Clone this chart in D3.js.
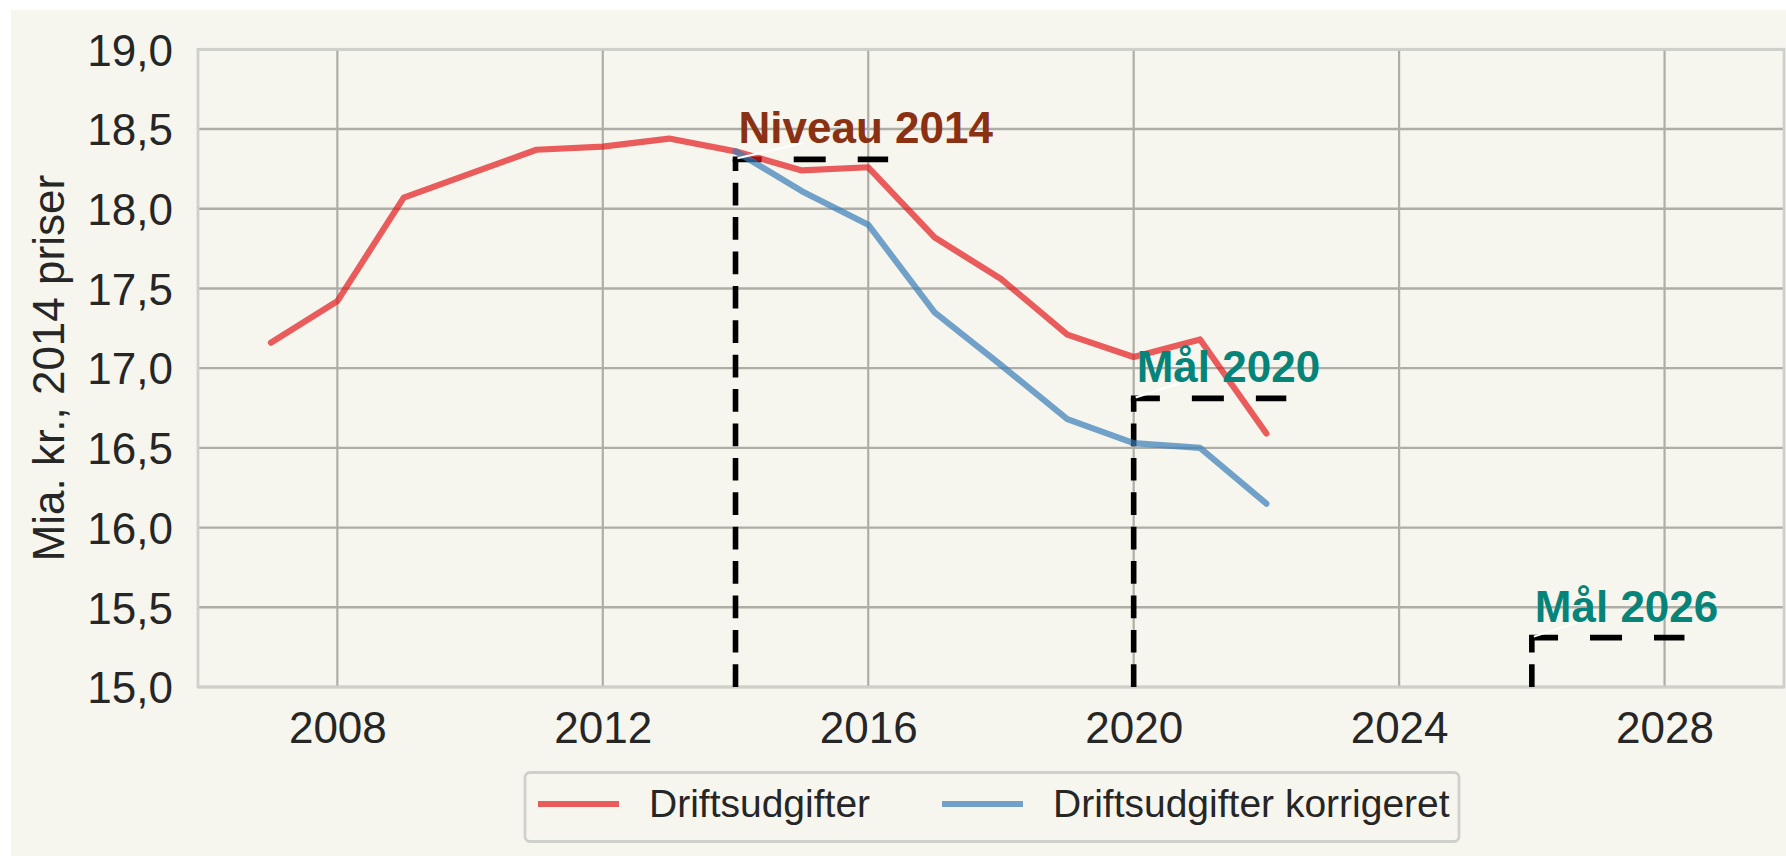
<!DOCTYPE html>
<html lang="da">
  <head>
    <meta charset="UTF-8" />
    <title>Driftsudgifter</title>
    <script src="https://d3js.org/d3.v7.min.js"></script>
    <style>
      body { margin: 0; background: #fff; }
      svg text { font-family: "Liberation Sans", Arial, sans-serif; fill: #262626; }
    </style>
  </head>
  <body></body>
  <script type="text/javascript">
    var width = 1786,
      height = 856;

    // data
    var years = [2007, 2008, 2009, 2010, 2011, 2012, 2013, 2014, 2015, 2016, 2017, 2018, 2019, 2020, 2021, 2022];
    var drift = [17.16, 17.42, 18.07, 18.22, 18.37, 18.39, 18.44, 18.36, 18.24, 18.26, 17.82, 17.56, 17.21, 17.07, 17.18, 16.59];
    var korrYears = [2014, 2015, 2016, 2017, 2018, 2019, 2020, 2021, 2022];
    var korr = [18.36, 18.11, 17.90, 17.35, 17.02, 16.68, 16.53, 16.50, 16.15];

    var targetNames = ['Niveau 2014', 'Mål 2020', 'Mål 2026'];
    var targetYears = [2014, 2020, 2026];
    var targetLevels = [18.31, 16.81, 15.31];
    var targetColors = ['#8a3113', '#06847a', '#06847a'];

    var xTicks = [2008, 2012, 2016, 2020, 2024, 2028];
    var yTicks = [15.0, 15.5, 16.0, 16.5, 17.0, 17.5, 18.0, 18.5, 19.0];
    var seriesNames = ['Driftsudgifter', 'Driftsudgifter korrigeret'];
    var seriesColors = ['#e41a1c', '#377eb8'];

    var m = { left: 198, right: 1784, top: 49.3, bottom: 687 };

    var x = d3.scaleLinear().domain([2005.9, 2029.8]).range([m.left, m.right]);
    var y = d3.scaleLinear().domain([15, 19]).range([m.bottom, m.top]);
    var fmt = d => d3.format('.1f')(d).replace('.', ',');

    var svg = d3.select('body').append('svg')
      .attr('width', width)
      .attr('height', height);

    // figure background
    svg.append('rect')
      .attr('x', 11).attr('y', 10)
      .attr('width', width - 11).attr('height', height - 10)
      .attr('fill', '#f7f6ee');

    // grid
    svg.append('g').selectAll('line').data(xTicks).join('line')
      .attr('x1', d => x(d)).attr('x2', d => x(d))
      .attr('y1', m.top).attr('y2', m.bottom)
      .attr('stroke', '#aeaea6').attr('stroke-width', 2.2);
    svg.append('g').selectAll('line').data(yTicks).join('line')
      .attr('x1', m.left).attr('x2', m.right)
      .attr('y1', d => y(d)).attr('y2', d => y(d))
      .attr('stroke', '#aeaea6').attr('stroke-width', 2.4);

    // frame
    svg.append('rect')
      .attr('x', m.left).attr('y', m.top)
      .attr('width', m.right - m.left).attr('height', m.bottom - m.top)
      .attr('fill', 'none').attr('stroke', '#cfcfcb').attr('stroke-width', 2.8);

    // axes (labels only)
    var xAxis = svg.append('g')
      .attr('transform', `translate(0,${m.bottom})`)
      .call(d3.axisBottom(x).tickValues(xTicks).tickFormat(d3.format('d')).tickSize(0).tickPadding(0));
    xAxis.select('.domain').remove();
    xAxis.selectAll('text')
      .attr('y', 56).attr('dy', null)
      .style('font-size', '44px');

    var yAxis = svg.append('g')
      .attr('transform', `translate(${m.left},0)`)
      .call(d3.axisLeft(y).tickValues(yTicks).tickFormat(fmt).tickSize(0).tickPadding(25));
    yAxis.select('.domain').remove();
    yAxis.selectAll('text').style('font-size', '44px').attr('dy', '0.36em');

    svg.append('text')
      .attr('transform', `translate(63.5,${(m.top + m.bottom) / 2}) rotate(-90)`)
      .attr('text-anchor', 'middle')
      .style('font-size', '44px')
      .text('Mia. kr., 2014 priser');

    // target dashed lines
    var tg = svg.append('g');
    targetYears.forEach(function (yr, i) {
      tg.append('line')
        .attr('x1', x(yr)).attr('x2', x(yr))
        .attr('y1', y(15)).attr('y2', y(targetLevels[i]))
        .attr('stroke', '#000').attr('stroke-width', 5.6)
        .attr('stroke-dasharray', '22.7,11.7');
      tg.append('line')
        .attr('x1', x(yr) - 2.8).attr('x2', x(yr + 2.3))
        .attr('y1', y(targetLevels[i])).attr('y2', y(targetLevels[i]))
        .attr('stroke', '#000').attr('stroke-width', 5.8)
        .attr('stroke-dasharray', '32,32')
        .attr('stroke-dashoffset', 3);
    });

    // series lines
    var line = d3.line().x(d => x(d[0])).y(d => y(d[1]));
    svg.append('path')
      .attr('d', line(d3.zip(years, drift)))
      .attr('fill', 'none').attr('stroke', seriesColors[0])
      .attr('stroke-opacity', 0.7).attr('stroke-width', 6.2)
      .attr('stroke-linejoin', 'round').attr('stroke-linecap', 'round');
    svg.append('path')
      .attr('d', line(d3.zip(korrYears, korr)))
      .attr('fill', 'none').attr('stroke', seriesColors[1])
      .attr('stroke-opacity', 0.7).attr('stroke-width', 6.2)
      .attr('stroke-linejoin', 'round').attr('stroke-linecap', 'round');

    // annotations
    var arrows = svg.append('g');
    var labels = svg.append('g');
    targetNames.forEach(function (name, i) {
      var px = x(targetYears[i]), py = y(targetLevels[i]);
      var t = labels.append('text')
        .attr('x', px + 3).attr('y', py - 16)
        .style('font-size', '44px').style('font-weight', 'bold')
        .style('fill', targetColors[i])
        .text(name);
      var bb = t.node().getBBox();
      // white arrow from the point towards the text centre, cut at the text bottom
      var cx = bb.x + bb.width / 2, cy = bb.y + bb.height / 2;
      var ey = py - 16;
      var k = (py - ey) / (py - cy);
      arrows.append('line')
        .attr('x1', px + 2).attr('y1', py - 1)
        .attr('x2', px + (cx - px) * k).attr('y2', ey)
        .attr('stroke', '#fff').attr('stroke-width', 2);
    });

    // legend
    var lg = svg.append('g');
    lg.append('rect')
      .attr('x', 525).attr('y', 772.5)
      .attr('width', 934).attr('height', 69)
      .attr('rx', 5)
      .attr('fill', '#f7f6ee').attr('stroke', '#cfcfcb').attr('stroke-width', 2.8);
    var legX = [538, 942];
    seriesNames.forEach(function (name, i) {
      lg.append('line')
        .attr('x1', legX[i]).attr('x2', legX[i] + 81)
        .attr('y1', 804).attr('y2', 804)
        .attr('stroke', seriesColors[i]).attr('stroke-opacity', 0.7)
        .attr('stroke-width', 6.2);
      lg.append('text')
        .attr('x', legX[i] + 111).attr('y', 817)
        .style('font-size', '39px')
        .text(name);
    });
  </script>
</html>
